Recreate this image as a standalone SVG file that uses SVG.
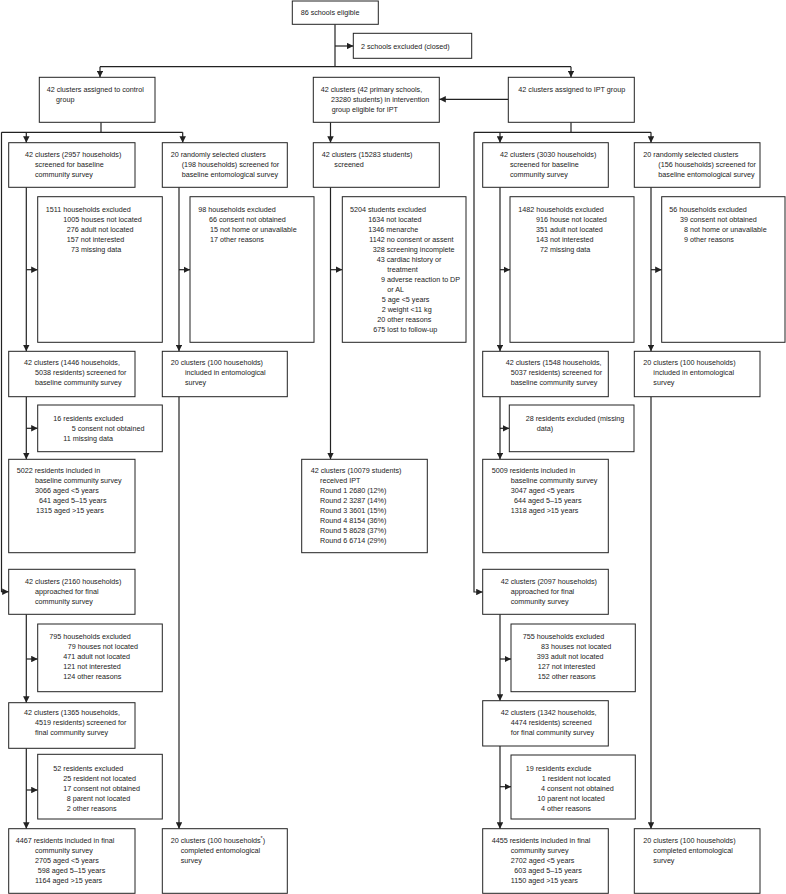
<svg xmlns="http://www.w3.org/2000/svg" width="786" height="894" viewBox="0 0 786 894">
<defs>
<style>
.box{fill:#fff;stroke:#222;stroke-width:1}
.ln{fill:none;stroke:#222;stroke-width:1.2}
.ar{fill:none;stroke:#222;stroke-width:1.2;marker-end:url(#ah)}
text{font-family:"Liberation Sans",Arial,sans-serif;font-size:7.2px;fill:#222}
</style>
<marker id="ah" viewBox="0 0 10 10" refX="10" refY="5" markerWidth="6.5" markerHeight="6.5" orient="auto" markerUnits="userSpaceOnUse"><path d="M0,0 L10,5 L0,10 z" fill="#222"/></marker>
</defs>
<rect width="786" height="894" fill="#fff"/>

<g id="connectors">
<path class="ln" d="M335,24.3 V66.7"/>
<path class="ar" d="M335,46 H353.3"/>
<path class="ln" d="M100,66.7 H571"/>
<path class="ar" d="M100,66.7 V77.3"/>
<path class="ar" d="M571,66.7 V77.3"/>
<path class="ar" d="M508.3,99.3 H439.3"/>
<path class="ln" d="M101,122.3 V132.3"/>
<path class="ln" d="M1.5,132.3 H182.7"/>
<path class="ar" d="M26.3,132.3 V142.7"/>
<path class="ar" d="M182.7,132.3 V142.7"/>
<path class="ar" d="M1.5,132.3 V591.7 H8.7"/>
<path class="ar" d="M330.5,122.3 V142.7"/>
<path class="ln" d="M571,122.3 V132.3"/>
<path class="ln" d="M474,132.3 H651"/>
<path class="ar" d="M500,132.3 V142.7"/>
<path class="ar" d="M651,132.3 V142.7"/>
<path class="ar" d="M474,132.3 V592 H482.7"/>
<path class="ar" d="M26.3,187.3 V351.3"/>
<path class="ar" d="M26.3,269.7 H37.7"/>
<path class="ar" d="M26.3,396.7 V459.3"/>
<path class="ar" d="M26.3,428.3 H37.7"/>
<path class="ar" d="M26.3,614.3 V702.7"/>
<path class="ar" d="M26.3,659 H37.7"/>
<path class="ar" d="M26.3,748.3 V828.7"/>
<path class="ar" d="M26.3,790 H37.7"/>
<path class="ar" d="M179,187.3 V351.3"/>
<path class="ar" d="M179,269.7 H190"/>
<path class="ar" d="M179,396.7 V828.7"/>
<path class="ar" d="M330.5,187.3 V459.3"/>
<path class="ar" d="M330.5,269.7 H342.3"/>
<path class="ar" d="M500,187.3 V351.3"/>
<path class="ar" d="M500,269.7 H510"/>
<path class="ar" d="M500,396.7 V459.3"/>
<path class="ar" d="M500,428.3 H509.3"/>
<path class="ar" d="M500,614.3 V700.7"/>
<path class="ar" d="M500,659 H511"/>
<path class="ar" d="M500,746 V828.7"/>
<path class="ar" d="M500,786.7 H511"/>
<path class="ar" d="M651,187.3 V351.3"/>
<path class="ar" d="M651,269.7 H661.7"/>
<path class="ar" d="M651,396.7 V828.7"/>
</g>

<g id="eligible"><rect class="box" x="292.3" y="1" width="86" height="23.3"/><text x="300.7" y="15.2">86 schools eligible</text></g>
<g id="excluded-closed"><rect class="box" x="353.3" y="33.3" width="118.4" height="25"/><text x="361" y="48.5">2 schools excluded (closed)</text></g>

<g id="control"><rect class="box" x="39.3" y="77.3" width="115.7" height="45"/><text x="46.7" y="91.8">42 clusters assigned to control</text><text x="56" y="101.8">group</text></g>
<g id="intervention"><rect class="box" x="313.3" y="77.3" width="126" height="45"/><text x="320.7" y="91.8">42 clusters (42 primary schools,</text><text x="331" y="101.8">23280 students) in intervention</text><text x="331.7" y="111.8">group eligible for IPT</text></g>
<g id="ipt"><rect class="box" x="508.3" y="77.3" width="126" height="45"/><text x="518.3" y="91.8">42 clusters assigned to IPT group</text></g>

<g id="c-comm-screen"><rect class="box" x="8.7" y="142.7" width="126.3" height="44.6"/><text x="25" y="156.8">42 clusters (2957 households)</text><text x="35" y="166.8">screened for baseline</text><text x="35" y="176.8">community survey</text></g>
<g id="c-ento-screen"><rect class="box" x="162.3" y="142.7" width="125" height="44.6"/><text x="170.7" y="156.8">20 randomly selected clusters</text><text x="181.7" y="166.8">(198 households) screened for</text><text x="181.7" y="176.8">baseline entomological survey</text></g>
<g id="i-screen"><rect class="box" x="313.3" y="142.7" width="126" height="44.6"/><text x="321.7" y="156.8">42 clusters (15283 students)</text><text x="334.3" y="166.8">screened</text></g>
<g id="p-comm-screen"><rect class="box" x="482.7" y="142.7" width="125.6" height="44.6"/><text x="500" y="156.8">42 clusters (3030 households)</text><text x="510" y="166.8">screened for baseline</text><text x="510" y="176.8">community survey</text></g>
<g id="p-ento-screen"><rect class="box" x="634.3" y="142.7" width="125.7" height="44.6"/><text x="643.3" y="156.8">20 randomly selected clusters</text><text x="658.3" y="166.8">(156 households) screened for</text><text x="658.3" y="176.8">baseline entomological survey</text></g>

<g id="c-comm-excl"><rect class="box" x="37.7" y="196.7" width="124.6" height="145.6"/><text x="45.7" y="212.2">1511 households excluded</text><text x="63.3" y="222.2">1005 houses not located</text><text x="66.7" y="232.2">276 adult not located</text><text x="66.7" y="242.2">157 not interested</text><text x="71" y="252.2">73 missing data</text></g>
<g id="c-ento-excl"><rect class="box" x="190" y="196.7" width="124" height="145.6"/><text x="198.3" y="212.2">98 households excluded</text><text x="209" y="222.2">66 consent not obtained</text><text x="210" y="232.2">15 not home or unavailable</text><text x="210" y="242.2">17 other reasons</text></g>
<g id="i-excl"><rect class="box" x="342.3" y="196.7" width="123.7" height="145.6"/><text x="350" y="212.2">5204 students excluded</text><text x="368.3" y="222.2">1634 not located</text><text x="368.3" y="232.2">1346 menarche</text><text x="369.3" y="242.2">1142 no consent or assent</text><text x="372.7" y="252.2">328 screening incomplete</text><text x="376.7" y="262.2">43 cardiac history or</text><text x="387.3" y="272.2">treatment</text><text x="381" y="282.2">9 adverse reaction to DP</text><text x="387.3" y="292.2">or AL</text><text x="381.7" y="302.2">5 age &lt;5 years</text><text x="381.7" y="312.2">2 weight &lt;11 kg</text><text x="377.3" y="322.2">20 other reasons</text><text x="373.3" y="332.2">675 lost to follow-up</text></g>
<g id="p-comm-excl"><rect class="box" x="510" y="196.7" width="124" height="145.6"/><text x="518.3" y="212.2">1482 households excluded</text><text x="536" y="222.2">916 house not located</text><text x="536" y="232.2">351 adult not located</text><text x="536" y="242.2">143 not interested</text><text x="540" y="252.2">72 missing data</text></g>
<g id="p-ento-excl"><rect class="box" x="661.7" y="196.7" width="123.3" height="145.6"/><text x="669.3" y="212.2">56 households excluded</text><text x="680" y="222.2">39 consent not obtained</text><text x="684" y="232.2">8 not home or unavailable</text><text x="684" y="242.2">9 other reasons</text></g>

<g id="c-comm-screened"><rect class="box" x="8.7" y="351.3" width="126.3" height="45.4"/><text x="24" y="364.8">42 clusters (1446 households,</text><text x="35" y="374.8">5038 residents) screened for</text><text x="35" y="384.8">baseline community survey</text></g>
<g id="c-ento-incl"><rect class="box" x="162.3" y="351.3" width="125" height="45.4"/><text x="170.7" y="364.8">20 clusters (100 households)</text><text x="185" y="374.8">included in entomological</text><text x="185" y="384.8">survey</text></g>
<g id="p-comm-screened"><rect class="box" x="482.7" y="351.3" width="125.6" height="45.4"/><text x="505.7" y="364.8">42 clusters (1548 households,</text><text x="510.7" y="374.8">5037 residents) screened for</text><text x="510.7" y="384.8">baseline community survey</text></g>
<g id="p-ento-incl"><rect class="box" x="634.3" y="351.3" width="125.7" height="45.4"/><text x="643.3" y="364.8">20 clusters (100 households)</text><text x="653.3" y="374.8">included in entomological</text><text x="653.3" y="384.8">survey</text></g>

<g id="c-res-excl"><rect class="box" x="37.7" y="405" width="124.6" height="46.7"/><text x="53.3" y="420.8">16 residents excluded</text><text x="71.7" y="430.8">5 consent not obtained</text><text x="63.3" y="440.8">11 missing data</text></g>
<g id="p-res-excl"><rect class="box" x="509.3" y="405" width="124.7" height="46.7"/><text x="525.7" y="420.8">28 residents excluded (missing</text><text x="536.7" y="430.8">data)</text></g>

<g id="c-baseline"><rect class="box" x="8.7" y="459.3" width="126.3" height="93.4"/><text x="16.7" y="472.8">5022 residents included in</text><text x="35" y="482.8">baseline community survey</text><text x="35" y="492.8">3066 aged &lt;5 years</text><text x="39" y="502.8">641 aged 5–15 years</text><text x="36" y="512.8">1315 aged &gt;15 years</text></g>
<g id="i-received"><rect class="box" x="301.7" y="459.3" width="125.6" height="93.4"/><text x="310.7" y="473.2">42 clusters (10079 students)</text><text x="320" y="483.2">received IPT</text><text x="320" y="493.2">Round 1 2680 (12%)</text><text x="320" y="503.2">Round 2 3287 (14%)</text><text x="320" y="513.2">Round 3 3601 (15%)</text><text x="320" y="523.2">Round 4 8154 (36%)</text><text x="320" y="533.2">Round 5 8628 (37%)</text><text x="320" y="543.2">Round 6 6714 (29%)</text></g>
<g id="p-baseline"><rect class="box" x="482.7" y="459.3" width="125.6" height="93.4"/><text x="491.7" y="472.8">5009 residents included in</text><text x="510.7" y="482.8">baseline community survey</text><text x="510.7" y="492.8">3047 aged &lt;5 years</text><text x="514" y="502.8">644 aged 5–15 years</text><text x="510.7" y="512.8">1318 aged &gt;15 years</text></g>

<g id="c-approached"><rect class="box" x="8.7" y="569.3" width="126.3" height="45"/><text x="25" y="583.5">42 clusters (2160 households)</text><text x="35" y="593.5">approached for final</text><text x="35" y="603.5">community survey</text></g>
<g id="p-approached"><rect class="box" x="482.7" y="569.3" width="125.6" height="45"/><text x="500.7" y="583.5">42 clusters (2097 households)</text><text x="510.7" y="593.5">approached for final</text><text x="510.7" y="603.5">community survey</text></g>

<g id="c-final-hh-excl"><rect class="box" x="37.7" y="624" width="124.6" height="67.7"/><text x="49.3" y="639.2">795 households excluded</text><text x="67.7" y="649.2">79 houses not located</text><text x="63.3" y="659.2">471 adult not located</text><text x="63.3" y="669.2">121 not interested</text><text x="63.3" y="679.2">124 other reasons</text></g>
<g id="p-final-hh-excl"><rect class="box" x="511" y="624" width="124.3" height="67.7"/><text x="522.7" y="639.2">755 households excluded</text><text x="541" y="649.2">83 houses not located</text><text x="536.7" y="659.2">393 adult not located</text><text x="537.7" y="669.2">127 not interested</text><text x="537.7" y="679.2">152 other reasons</text></g>

<g id="c-final-screened"><rect class="box" x="8.7" y="702.7" width="126.3" height="45.6"/><text x="24" y="714.5">42 clusters (1365 households,</text><text x="35" y="724.5">4519 residents) screened for</text><text x="35" y="734.5">final community survey</text></g>
<g id="p-final-screened"><rect class="box" x="482.7" y="700.7" width="125.6" height="45.3"/><text x="500.7" y="714.8">42 clusters (1342 households,</text><text x="510.7" y="724.8">4474 residents) screened</text><text x="510.7" y="734.8">for final community survey</text></g>

<g id="c-final-res-excl"><rect class="box" x="37.7" y="754.3" width="124.6" height="64.7"/><text x="53.3" y="770.5">52 residents excluded</text><text x="63.3" y="780.5">25 resident not located</text><text x="63.3" y="790.5">17 consent not obtained</text><text x="66.7" y="800.5">8 parent not located</text><text x="66.7" y="810.5">2 other reasons</text></g>
<g id="p-final-res-excl"><rect class="box" x="511" y="755" width="124.3" height="64"/><text x="525.7" y="770.5">19 residents exclude</text><text x="541.7" y="780.5">1 resident not located</text><text x="541" y="790.5">4 consent not obtained</text><text x="537.3" y="800.5">10 parent not located</text><text x="541" y="810.5">4 other reasons</text></g>

<g id="c-final"><rect class="box" x="8.7" y="828.7" width="126.3" height="64.6"/><text x="15.7" y="842.8">4467 residents included in final</text><text x="35" y="852.8">community survey</text><text x="35" y="862.8">2705 aged &lt;5 years</text><text x="37.7" y="872.8">598 aged 5–15 years</text><text x="35" y="882.8">1164 aged &gt;15 years</text></g>
<g id="c-ento-final"><rect class="box" x="162.3" y="828.7" width="125" height="64.6"/><text x="170.7" y="842.8">20 clusters (100 households<tspan font-size="5.5" dy="-2.5">*</tspan><tspan dy="2.5">)</tspan></text><text x="180.7" y="852.8">completed entomological</text><text x="180.7" y="862.8">survey</text></g>
<g id="p-final"><rect class="box" x="482.7" y="828.7" width="125.6" height="64.6"/><text x="491.7" y="842.8">4455 residents included in final</text><text x="510.7" y="852.8">community survey</text><text x="510.7" y="862.8">2702 aged &lt;5 years</text><text x="514.3" y="872.8">603 aged 5–15 years</text><text x="510.7" y="882.8">1150 aged &gt;15 years</text></g>
<g id="p-ento-final"><rect class="box" x="634.3" y="828.7" width="125.7" height="64.6"/><text x="643.3" y="842.8">20 clusters (100 households)</text><text x="653.3" y="852.8">completed entomological</text><text x="653.3" y="862.8">survey</text></g>
</svg>
